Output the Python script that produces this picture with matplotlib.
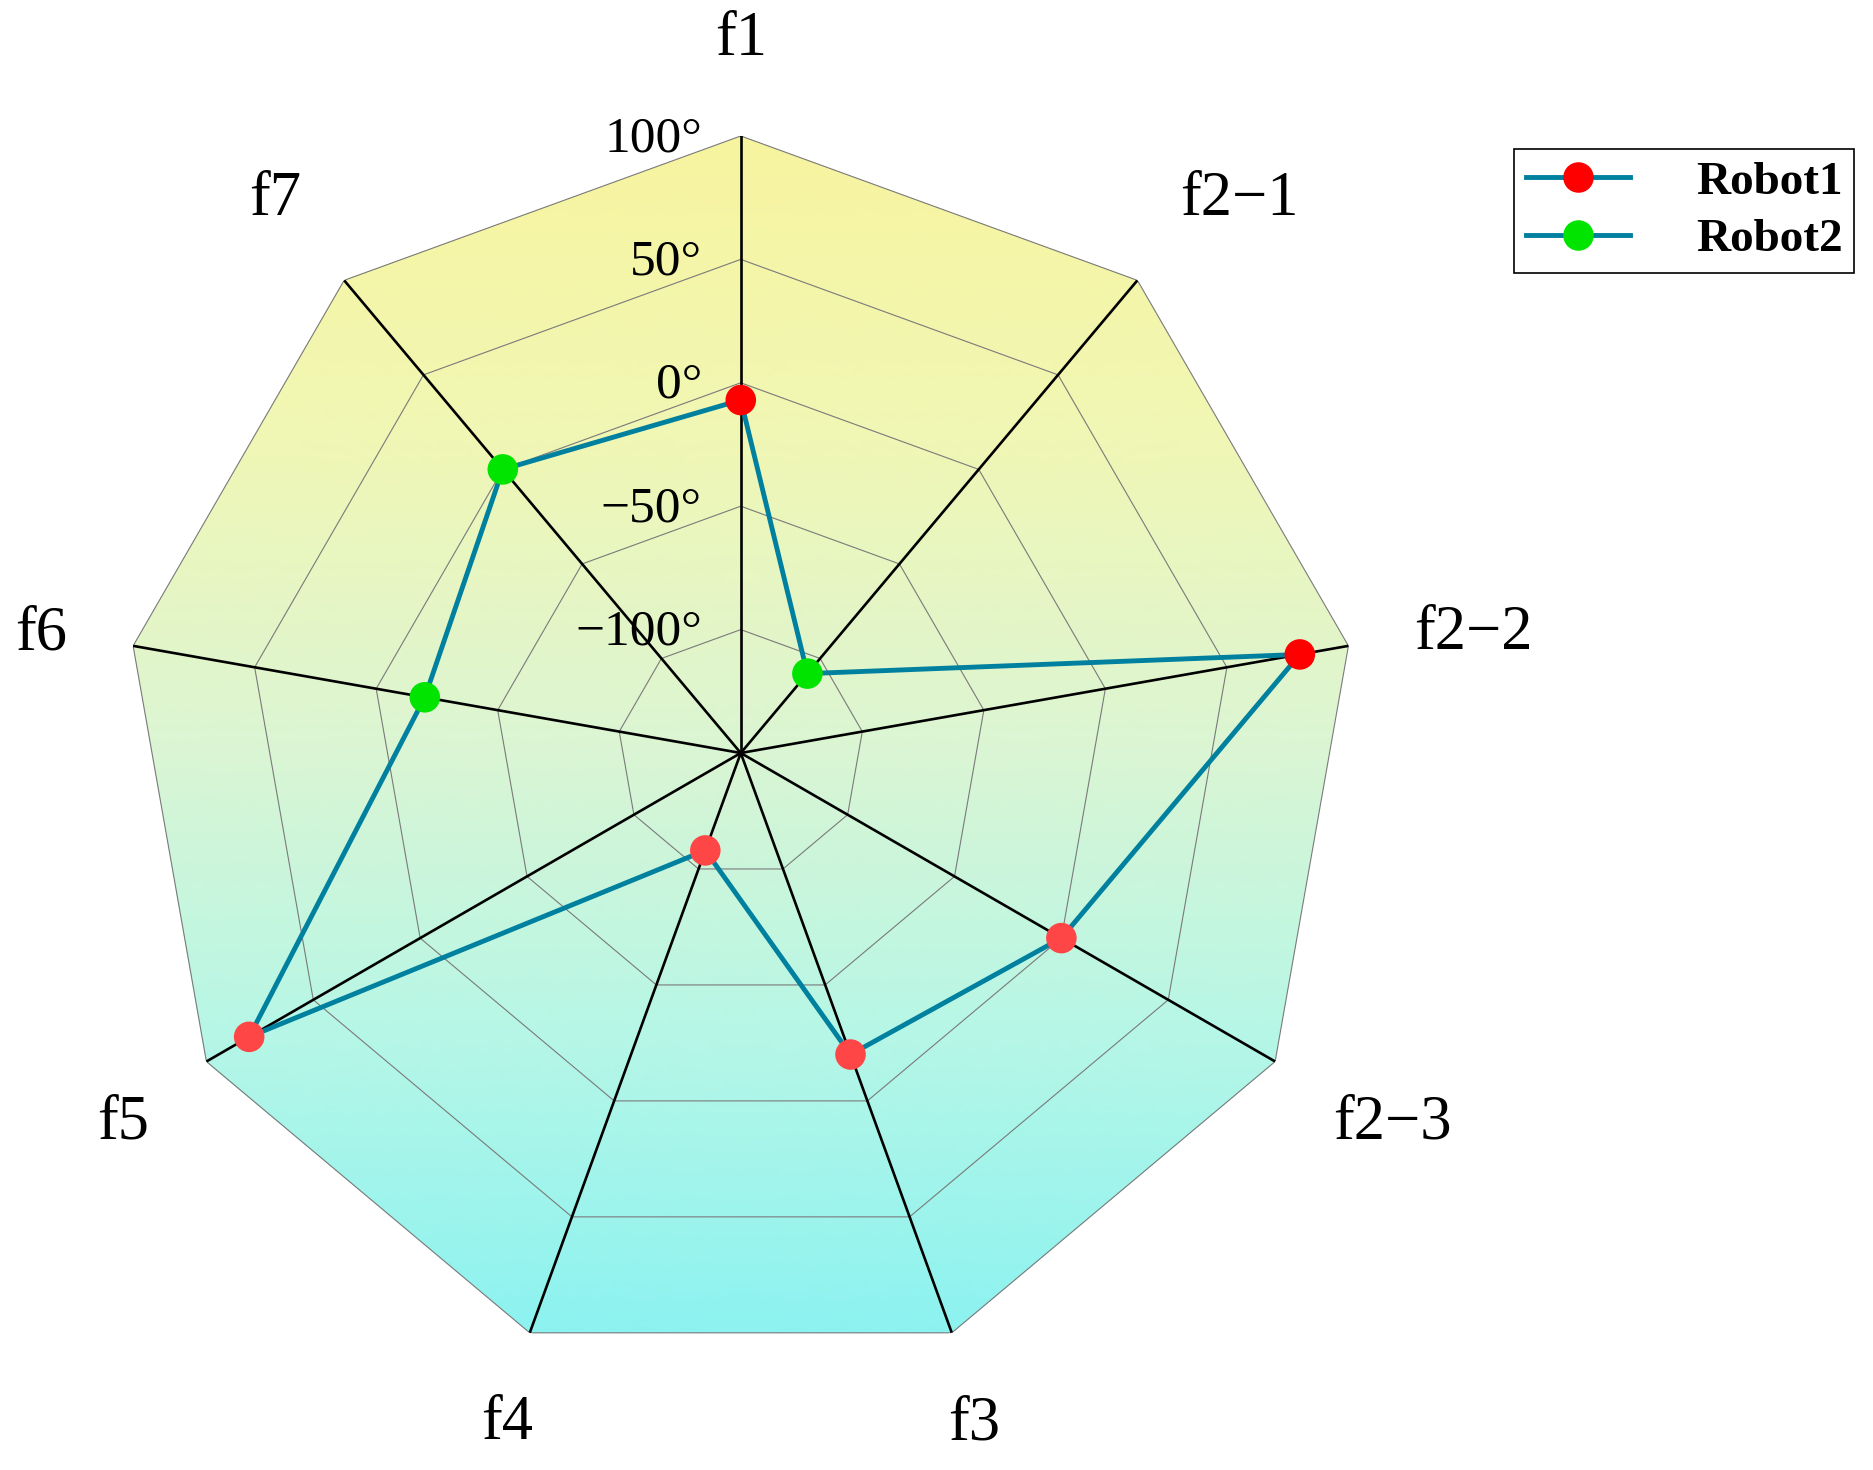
import numpy as np
import matplotlib.pyplot as plt
from matplotlib.colors import LinearSegmentedColormap
from matplotlib.lines import Line2D

# data
categories = ["f1", "f2\u22121", "f2\u22122", "f2\u22123", "f3", "f4", "f5", "f6", "f7"]
values = [-7, -108, 80, 0, -20, -108, 80, -20, 0]
point_robot = ["Robot1", "Robot2", "Robot1", "Robot1", "Robot1", "Robot1", "Robot1", "Robot2", "Robot2"]
ring_values = [-100, -50, 0, 50, 100]
r_min, r_max = -150, 100

# styles
serif = "Liberation Serif"
line_color = "#00809f"
robot_colors = {"Robot1": "#ff0000", "Robot2": "#00e400"}
light_red = "#ff4646"

n = len(categories)
angles = np.linspace(0, 2 * np.pi, n, endpoint=False)
angles_closed = np.append(angles, angles[0])
values_closed = np.append(values, values[0])

fig = plt.figure(figsize=(18.73, 14.7), dpi=100)
ax = fig.add_axes([0.066, 0.068, 0.659, 0.8395], projection="polar")
ax.set_theta_zero_location("N")
ax.set_theta_direction(-1)
ax.set_ylim(r_min, r_max)
ax.axis("off")

# gradient background (yellow top -> cyan bottom), clipped to outer polygon
cmap = LinearSegmentedColormap.from_list(
    "bg", ["#8cf2f0", "#b6f6e6", "#dcf5d2", "#f0f6b4", "#f7f49f"])
th = np.linspace(0, 2 * np.pi, 361)
rr = np.linspace(r_min, r_max, 40)
TH, RR = np.meshgrid(th, rr)
Y = (RR - r_min) / (r_max - r_min) * np.cos(TH)
bottom = -np.cos(np.pi / n)
C = (Y - bottom) / (1 - bottom)
mesh = ax.pcolormesh(TH, RR, C, shading="gouraud", cmap=cmap, vmin=0, vmax=1, zorder=0)
outer = ax.fill(angles_closed, [r_max] * (n + 1), facecolor="none", edgecolor="none")[0]
mesh.set_clip_path(outer)

# polygon rings
for v in ring_values:
    ax.plot(angles_closed, [v] * (n + 1), color="#7a7a7a", lw=0.8, zorder=1)

# spokes
for a in angles:
    ax.plot([a, a], [r_min, r_max], color="black", lw=1.9, zorder=2)

# ring labels along f1
for v in ring_values:
    label = f"{v}\u00b0".replace("-", "\u2212")
    ax.annotate(label, xy=(0, v), xytext=(-28, -2), textcoords="offset points",
                ha="right", va="center", fontsize=37, family=serif, zorder=5)

# category labels
for a, cat in zip(angles, categories):
    s, c = np.sin(a), np.cos(a)
    ha = "left" if s > 0.5 else ("right" if s < -0.5 else "center")
    va = "bottom" if c > 0.5 else ("top" if c < -0.4 else "center")
    ax.text(a, 127, cat, ha=ha, va=va, fontsize=45, family=serif)

# data line and markers
ax.plot(angles_closed, values_closed, color=line_color, lw=3.5, zorder=3)
marker_colors = []
for i, rb in enumerate(point_robot):
    col = robot_colors[rb]
    if rb == "Robot1" and i not in (0, 2):
        col = light_red
    marker_colors.append(col)
ax.scatter(angles, values, s=22 ** 2, c=marker_colors, edgecolors="none", zorder=4)

handles = [Line2D([], [], color=line_color, lw=3.5, marker="o", markersize=22,
                  markerfacecolor=robot_colors[k], markeredgecolor="none", label=k)
           for k in ["Robot1", "Robot2"]]
leg = fig.legend(handles=handles, loc="upper right", bbox_to_anchor=(0.990, 0.8986),
                 prop={"family": serif, "weight": "bold", "size": 34},
                 frameon=True, fancybox=False, framealpha=1, edgecolor="black",
                 handlelength=2.2, handletextpad=1.4, labelspacing=0.3,
                 borderpad=0.25, borderaxespad=0)
leg.get_frame().set_linewidth(1.2)

fig.savefig("out.png", dpi=100)
